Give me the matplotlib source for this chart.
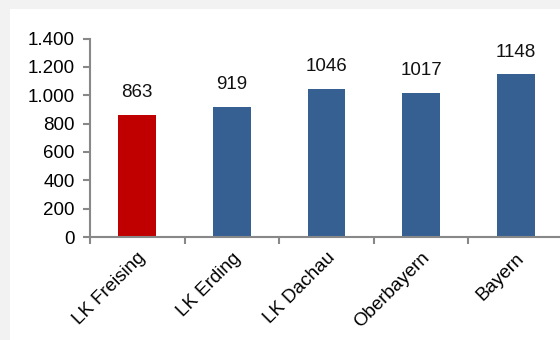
import matplotlib.pyplot as plt
from matplotlib.patches import Rectangle
from matplotlib.ticker import FuncFormatter, FixedLocator
from matplotlib.transforms import ScaledTranslation

plt.rcParams['font.family'] = ['Liberation Sans', 'DejaVu Sans']

regions = ['LK Freising', 'LK Erding', 'LK Dachau', 'Oberbayern', 'Bayern']
values = [863, 919, 1046, 1017, 1148]
colors = ['#c00000', '#366092', '#366092', '#366092', '#366092']
yticks = [0, 200, 400, 600, 800, 1000, 1200, 1400]

fig = plt.figure(figsize=(5.6, 3.4), dpi=100)
fig.patch.set_facecolor('#f2f2f2')
# white panel behind the chart
fig.patches.append(Rectangle((10 / 560, 0), 1, 1 - 9 / 340, transform=fig.transFigure,
                             facecolor='white', edgecolor='none', zorder=-10))

ax = fig.add_axes([90 / 560, 1 - 237 / 340, 473 / 560, 198.5 / 340])
ax.set_facecolor('none')

x = range(len(regions))
bars = ax.bar(x, values, width=0.4, color=colors, zorder=2)
for xi, v in zip(x, values):
    ax.text(xi, v + 95, str(v), ha='center', va='bottom', fontsize=13.5, color='#111111')

ax.set_xlim(-0.5, len(regions) - 0.5)
ax.set_ylim(0, 1400)
ax.set_yticks(yticks)
ax.yaxis.set_major_formatter(FuncFormatter(lambda v, p: f'{int(v):,}'.replace(',', '.')))

ax.set_xticks(list(x))
ax.set_xticklabels(regions, rotation=45, ha='right', rotation_mode='anchor', fontsize=13.5)
shift = ScaledTranslation(5 / 100, 0, fig.dpi_scale_trans)
for lbl in ax.get_xticklabels():
    lbl.set_transform(lbl.get_transform() + shift)
ax.xaxis.set_minor_locator(FixedLocator([i - 0.5 for i in range(len(regions) + 1)]))
ax.tick_params(axis='x', which='major', length=0, pad=9)
ax.tick_params(axis='x', which='minor', length=5, width=1.5, color='#888888', direction='out')
ax.tick_params(axis='y', length=5, width=1.5, color='#888888', labelsize=13.5, pad=6)

for side in ['top', 'right']:
    ax.spines[side].set_visible(False)
for side in ['left', 'bottom']:
    ax.spines[side].set_color('#888888')
    ax.spines[side].set_linewidth(1.5)

fig.savefig('out.png', dpi=100, facecolor=fig.get_facecolor())
